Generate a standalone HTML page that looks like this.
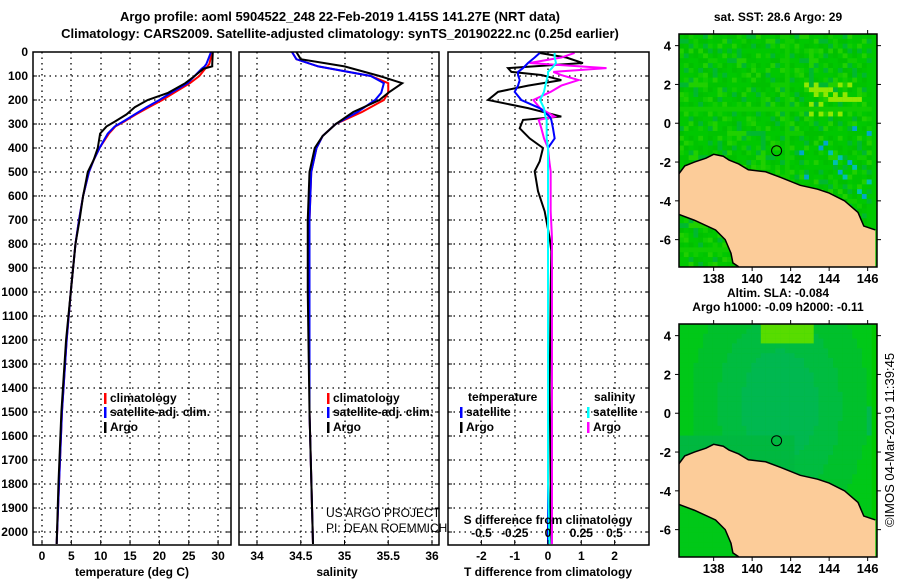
<!DOCTYPE html>
<html><head><meta charset="utf-8"><style>
body{margin:0;background:#fff}
svg{display:block;font-family:"Liberation Sans",Arial,sans-serif}
</style></head><body>
<svg id="c" width="900" height="580" viewBox="0 0 900 580"></svg>
<script>
// ---- data ----
const tDepth = [0,50,60,70,100,130,170,200,230,260,290,310,340,400,450,500,600,700,800,1000,1200,1500,1800,2050];
const tArgo  = [29.1,29,29,27.5,26,24.4,21.5,18,15.8,14.4,12.4,11,9.9,9.5,8.8,7.8,7,6.4,5.7,4.9,4.1,3.3,2.8,2.5];
const tClim  = [29,28.5,28.2,27.8,26.8,25.2,22.5,20.5,18.2,16,14,12.5,11.4,9.8,8.8,8,7,6.3,5.7,4.9,4.2,3.4,2.9,2.5];
const tSat   = [28.8,28,27.7,27.2,26,24.8,22,20,17.8,15.8,13.8,12.4,11.2,9.8,8.8,8,7,6.3,5.7,4.9,4.2,3.4,2.9,2.5];
const sDepth = [0,30,60,100,130,170,200,250,300,350,400,500,700,1000,1500,2050];
const sArgo  = [34.45,34.5,35.0,35.4,35.66,35.5,35.4,35.1,34.9,34.75,34.66,34.6,34.58,34.58,34.6,34.64];
const sClim  = [34.4,34.45,34.7,35.3,35.5,35.5,35.45,35.2,34.9,34.75,34.68,34.62,34.6,34.6,34.6,34.64];
const sSat   = [34.4,34.45,34.7,35.3,35.45,35.42,35.35,35.15,34.9,34.75,34.68,34.62,34.6,34.6,34.6,34.64];
const dDepth  = [4,23,46,67,83,96,117,140,166,200,234,269,283,318,360,400,456,497,580,664,775,830,1000,1400,1800,2050];
const dTArgo  = [-0.25,0.55,1.05,-1.2,-1.1,-0.2,0.4,-0.6,-1.5,-1.8,-0.6,0.4,-0.75,-0.85,-0.55,-0.15,-0.25,-0.4,-0.3,-0.1,0.05,0.1,0.08,0.05,0.08,0.05];
const dTSat   = [-0.25,-0.4,-0.6,-0.75,-0.9,-0.9,-0.85,-0.9,-1.0,-0.8,-0.25,0.05,0.1,0.15,0.2,0,0,0,0,0,0,0,0,0,0,0];
const dSArgo  = [0.2,0.1,-0.14,0.44,0.04,0.1,0.23,0.1,0.02,-0.11,-0.06,0.05,-0.07,-0.05,-0.03,0,0.01,0.02,0.02,0.02,0.03,0.03,0.03,0.03,0.03,0.03];
const dSSat   = [0.05,0.05,0.06,0.03,0.0,0.0,-0.01,-0.02,-0.03,-0.06,-0.03,-0.02,-0.01,-0.01,-0.01,0,0,0,0,0,0,0,0,0,0,0.01];
const depthTicks = [0,100,200,300,400,500,600,700,800,900,1000,1100,1200,1300,1400,1500,1600,1700,1800,1900,2000];
const tTicks = [0,5,10,15,20,25,30];
const sTicks = [34,34.5,35,35.5,36];
const sLabels = ["34","34.5","35","35.5","36"];
const dtTicks = [-2,-1,0,1,2];
const dsTicks = [-0.5,-0.25,0,0.25,0.5];
const dsLabels = ["-0.5","-0.25","0","0.25","0.5"];
const lonTicks = [138,140,142,144,146];
const latTicks = [4,2,0,-2,-4,-6];
const argoLon = 141.27, argoLat = -1.415;
const coast1 = [[136.2,-2.6],[136.5,-2.2],[137.0,-2.0],[137.6,-1.8],[138.0,-1.6],[138.5,-1.7],[138.8,-1.9],[139.3,-2.1],[139.8,-2.4],[140.7,-2.5],[141.5,-2.8],[142.5,-3.2],[143.4,-3.4],[144.0,-3.6],[144.8,-4.0],[145.5,-4.6],[145.8,-5.3],[146.4,-5.5]];
const coast2 = [[139.3,-7.4],[139.0,-7.2],[138.9,-6.7],[138.6,-6.0],[138.1,-5.5],[137.0,-5.0],[136.2,-4.7]];

// ---- helpers ----
const svg=document.getElementById('c');const NS='http://www.w3.org/2000/svg';
function mk(t,a,p){const e=document.createElementNS(NS,t);for(const k in a)e.setAttribute(k,a[k]);(p||svg).appendChild(e);return e;}
function tx(s,x,y,o,p){const e=mk('text',Object.assign({x:x,y:y,'font-size':12,'font-weight':'bold'},o||{}),p);e.textContent=s;return e;}
const yTop=52,yBot=545;const yD=d=>yTop+d*0.24;
function panel(name){const g=mk('g',{});return g;}
function grid(g,x0,x1,xs){
  depthTicks.forEach(d=>{if(d>0){const y=Math.round(yD(d));mk('line',{x1:x0,x2:x1,y1:y,y2:y,stroke:'#000','stroke-width':1.3,'stroke-dasharray':'1.5,4'},g);
    mk('line',{x1:x0,x2:x0+4,y1:y,y2:y,stroke:'#000'},g);mk('line',{x1:x1-4,x2:x1,y1:y,y2:y,stroke:'#000'},g);}});
  xs.forEach(x=>{x=Math.round(x);mk('line',{x1:x,x2:x,y1:yTop,y2:yBot,stroke:'#000','stroke-width':1.3,'stroke-dasharray':'1.5,4'},g);});
}
function frame(g,x0,x1){mk('rect',{x:x0,y:yTop,width:x1-x0,height:yBot-yTop,fill:'none',stroke:'#000','stroke-width':1.5},g);}
function line(g,xs,ds,fx,col,name,w){const p=mk('polyline',{points:xs.map((v,i)=>fx(v)+','+yD(ds[i])).join(' '),fill:'none',stroke:col,'stroke-width':w||2},g);}
function leg(g,x,y,col,label){mk('rect',{x:x,y:y-9,width:2.5,height:11,fill:col},g);tx(label,x+6,y,{},g);}

// titles
tx('Argo profile: aoml 5904522_248 22-Feb-2019 1.415S 141.27E (NRT data)',340,21,{'font-size':13,'text-anchor':'middle'});
tx('Climatology: CARS2009. Satellite-adjusted climatology: synTS_20190222.nc (0.25d earlier)',340,38,{'font-size':13,'text-anchor':'middle'});

// depth labels
const dl=panel('depth-axis');
depthTicks.forEach(d=>tx(String(d),28,yD(d)+4,{'text-anchor':'end'},dl));

// panel 1: temperature
const fT=t=>42+t*5.87;
let g1=panel('temperature-panel');
grid(g1,33,231,tTicks.map(fT));
line(g1,tClim,tDepth,fT,'#f00','climatology-temp-line');
line(g1,tSat,tDepth,fT,'#00f','satellite-temp-line');
line(g1,tArgo,tDepth,fT,'#000','argo-temp-line');
frame(g1,33,231);
tTicks.forEach(t=>{tx(String(t),fT(t),560,{'text-anchor':'middle'},g1);mk('line',{x1:fT(t),x2:fT(t),y1:yBot,y2:yBot-5,stroke:'#000'},g1);});
tx('temperature (deg C)',132,576,{'text-anchor':'middle'},g1);
leg(g1,104,402,'#f00','climatology');leg(g1,104,416,'#00f','satellite-adj. clim.');leg(g1,104,431,'#000','Argo');

// panel 2: salinity
const fS=s=>257+(s-34)*87.5;
let g2=panel('salinity-panel');
grid(g2,239,439,sTicks.map(fS));
line(g2,sClim,sDepth,fS,'#f00','climatology-sal-line');
line(g2,sSat,sDepth,fS,'#00f','satellite-sal-line');
line(g2,sArgo,sDepth,fS,'#000','argo-sal-line');
frame(g2,239,439);
sTicks.forEach((s,i)=>{tx(sLabels[i],fS(s),560,{'text-anchor':'middle'},g2);mk('line',{x1:fS(s),x2:fS(s),y1:yBot,y2:yBot-5,stroke:'#000'},g2);});
tx('salinity',337,576,{'text-anchor':'middle'},g2);
leg(g2,327,402,'#f00','climatology');leg(g2,327,416,'#00f','satellite-adj. clim.');leg(g2,327,431,'#000','Argo');
tx('US ARGO PROJECT',326,517,{'font-weight':'normal'},g2);
tx('PI: DEAN ROEMMICH',326,532,{'font-weight':'normal'},g2);

// panel 3: differences
const fDT=v=>548+v*33.3, fDS=v=>548+v*133;
let g3=panel('difference-panel');
grid(g3,448,649,dtTicks.map(fDT));
line(g3,dTArgo,dDepth,fDT,'#000','argo-temp-diff-line');
line(g3,dSArgo,dDepth,fDS,'#f0f','argo-sal-diff-line');
line(g3,dTSat,dDepth,fDT,'#00f','satellite-temp-diff-line');
line(g3,dSSat,dDepth,fDS,'#0ff','satellite-sal-diff-line');
frame(g3,448,649);
dtTicks.forEach(v=>{tx(String(v),fDT(v),560,{'text-anchor':'middle'},g3);mk('line',{x1:fDT(v),x2:fDT(v),y1:yBot,y2:yBot-5,stroke:'#000'},g3);});
dsTicks.forEach((v,i)=>tx(dsLabels[i],fDS(v),537,{'text-anchor':'middle'},g3));
tx('S difference from climatology',548,524,{'text-anchor':'middle'},g3);
tx('T difference from climatology',548,576,{'text-anchor':'middle'},g3);
tx('temperature',468,401,{},g3);
leg(g3,460,416,'#00f','satellite');leg(g3,460,431,'#000','Argo');
tx('salinity',594,401,{},g3);
leg(g3,587,416,'#0ff','satellite');leg(g3,587,431,'#f0f','Argo');

// maps
const mx0=679,mx1=877,fLon=l=>mx0+(l-136.2)*19.25;
function map(name,top,smooth,title){
  const bot=top+233;const fLat=a=>top+(4.6-a)*19.4;
  const g=panel(name);
  const cp=mk('clipPath',{id:name+'-clip'},g);mk('rect',{x:mx0,y:top,width:mx1-mx0,height:bot-top},cp);
  const cg=mk('g',{'clip-path':'url(#'+name+'-clip)'},g);
  mk('rect',{x:mx0,y:top,width:mx1-mx0,height:bot-top,fill:'#00c800'},cg);
  const pal=['#00c800','#00c000','#10cc00','#00c800','#00b830','#20d000','#00c400'];
  for(let i=0;i<40;i++)for(let j=0;j<48;j++){
    const lon=136.2+i*0.25,lat=4.6-j*0.25;let c;
    if(smooth){
      const dx=lon-141.3,dy=lat-0.5;const r=Math.sqrt(dx*dx*0.25+dy*dy*0.12);
      c=lat>3.6&&lon>140.2&&lon<143.2?'#58dc00':(r<1.0?'#00b850':(r<1.6?'#00bc40':(r<2.3?'#00c02c':'#00c818')));
      if(lon>145.8&&lat<0.5&&lat>-1)c='#00b850';
      if(lat<-1&&lat>-4&&lon<142)c='#00b840';
    }else{
      const h=(i*37+j*91+i*j*13)%29;c=pal[h%7];
      if(h===5&&lat<0&&lon>142)c='#00a8c8';
      if(h===11&&lat<-1&&lon>143)c='#00c0b0';
      if(lat>0.5&&lat<2.3&&lon>142.6&&lon<145.5&&h%3===0)c='#90e800';
    }
    mk('rect',{x:fLon(lon),y:fLat(lat),width:5,height:5,fill:c},cg);
  }
  const land=coast1.concat([[146.4,-7.4]]).concat(coast2);
  mk('polygon',{points:land.map(p=>fLon(p[0])+','+fLat(p[1])).join(' '),fill:'#fccc99',stroke:'none'},cg);
  mk('polyline',{points:coast1.map(p=>fLon(p[0])+','+fLat(p[1])).join(' '),fill:'none',stroke:'#000','stroke-width':1.5},cg);
  mk('polyline',{points:coast2.map(p=>fLon(p[0])+','+fLat(p[1])).join(' '),fill:'none',stroke:'#000','stroke-width':1.5},cg);
  const m=mk('circle',{cx:fLon(argoLon),cy:fLat(argoLat),r:5,fill:'none',stroke:'#000'},g);
  mk('rect',{x:mx0,y:top,width:mx1-mx0,height:bot-top,fill:'none',stroke:'#000','stroke-width':1.5},g);
  lonTicks.forEach(l=>{const x=fLon(l);mk('line',{x1:x,x2:x,y1:top,y2:top-4,stroke:'#000'},g);mk('line',{x1:x,x2:x,y1:bot,y2:bot+4,stroke:'#000'},g);tx(String(l),x,bot+16,{'text-anchor':'middle','font-size':13},g);});
  latTicks.forEach(a=>{const y=fLat(a);mk('line',{x1:mx0,x2:mx0-4,y1:y,y2:y,stroke:'#000'},g);mk('line',{x1:mx1,x2:mx1+4,y1:y,y2:y,stroke:'#000'},g);tx(String(a),671,y+5,{'text-anchor':'end','font-size':13},g);});
  title.forEach((t,k)=>tx(t,778,top-13-(title.length-1-k)*14,{'text-anchor':'middle','font-size':12},g));
}
map('sst-map',34,false,['sat. SST: 28.6 Argo: 29']);
map('sla-map',324,true,['Altim. SLA: -0.084','Argo h1000: -0.09 h2000: -0.11']);
const cr=tx('©IMOS 04-Mar-2019 11:39:45',0,0,{'font-weight':'normal','font-size':13,'text-anchor':'middle',transform:'translate(894,440) rotate(-90)'});

</script>
</body></html>
